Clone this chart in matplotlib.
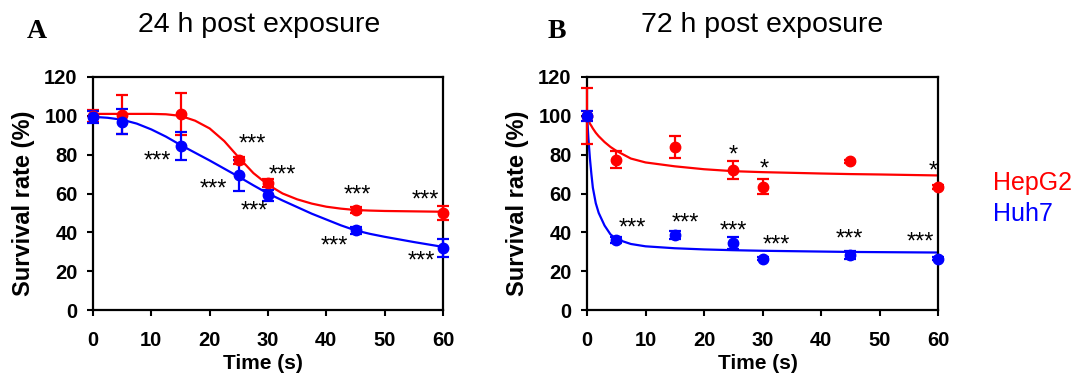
import matplotlib
matplotlib.use("Agg")
import matplotlib.pyplot as plt

plt.rcParams['font.family'] = ['Liberation Sans', 'DejaVu Sans']

# measured points (time in s, survival %)
times = [0, 5, 15, 25, 30, 45, 60]

hep_24 = [100, 100.5, 101, 77, 65.5, 51.5, 50]
hep_24_err = [3, 10, 11, 2, 2, 1.5, 3.5]
huh_24 = [99.5, 97, 84.5, 69.5, 59, 41, 32]
huh_24_err = [3, 6.5, 7, 8, 3, 2, 4.5]

hep_72 = [100, 77.5, 84, 72, 63.5, 76.5, 63.5]
hep_72_err = [14.5, 4.5, 5.5, 4.5, 4, 1, 1]
huh_72 = [100, 36, 38.5, 34.5, 26.5, 28.5, 26.5]
huh_72_err = [2.5, 1.5, 2, 3, 1, 2, 1]

# fitted curves
fit_t_24 = [0, 2.5, 5, 7.5, 10, 12.5, 15, 17.5, 20, 22.5, 25, 27.5, 30, 32.5,
            35, 37.5, 40, 42.5, 45, 47.5, 50, 55, 60]
hep_fit_24 = [101, 101, 101, 101, 101, 100.8, 100, 97.5, 93.5, 87, 78.5, 70.5,
              64.5, 60, 57, 54.8, 53.2, 52.2, 51.5, 51.2, 51, 50.8, 50.6]
huh_fit_24 = [99.5, 99, 98, 96, 93, 89.3, 85, 81, 77, 72.8, 68.6, 64.2, 60,
              56.4, 53, 49.6, 46.6, 43.6, 41, 39.2, 37.7, 35, 32.5]

fit_t_72 = [0, 0.25, 0.5, 0.75, 1, 1.5, 2, 3, 4, 5, 7.5, 10, 15, 20, 25, 30,
            40, 45, 50, 60]
hep_fit_72 = [100, 98, 96, 94.8, 93.5, 91.3, 89.5, 86.5, 84, 82, 78, 76, 74,
              72.5, 71.5, 71, 70.3, 70, 69.8, 69.3]
huh_fit_72 = [100, 88, 78, 70, 63, 55, 50, 43.5, 39, 36.5, 34, 32.8, 31.8,
              31.2, 30.8, 30.5, 30.1, 29.9, 29.8, 29.6]

# significance marks: (time, y, text)
stars_24 = [(11, 79, '***'), (27.3, 87.5, '***'), (32.4, 72, '***'),
            (20.7, 64.5, '***'), (27.6, 53, '***'), (45.4, 61.5, '***'),
            (41.4, 35, '***'), (56.9, 59, '***'), (56.3, 27.5, '***')]
stars_72 = [(25, 82, '*'), (30.3, 75, '*'), (59.2, 74, '*'),
            (7.8, 44.5, '***'), (16.8, 47, '***'), (25, 43, '***'),
            (32.3, 35.5, '***'), (44.8, 39, '***'), (57, 37, '***')]

RED = '#ff0000'
BLUE = '#0000ff'

fig = plt.figure(figsize=(10.78, 3.76), dpi=100)
axA = fig.add_axes([93 / 1078, 66 / 376, 350 / 1078, 233 / 376])
axB = fig.add_axes([587 / 1078, 66 / 376, 351 / 1078, 233 / 376])


def panel(ax, hep, hep_err, huh, huh_err, ft, hfit, ufit, stars):
    ax.plot(ft, hfit, color=RED, lw=1.6, zorder=2)
    ax.plot(ft, ufit, color=BLUE, lw=1.6, zorder=2)
    ax.errorbar(times, hep, yerr=hep_err, fmt='o', color=RED, ms=7.5,
                capsize=4, elinewidth=1.6, capthick=1.6, zorder=3,
                clip_on=False)
    ax.errorbar(times, huh, yerr=huh_err, fmt='o', color=BLUE, ms=7.5,
                capsize=4, elinewidth=1.6, capthick=1.6, zorder=3,
                clip_on=False)
    # asterisks sit high in the glyph box, nudge them down a little
    for x, y, s in stars:
        ax.annotate(s, (x, y), xytext=(0, -3.5), textcoords='offset points',
                    ha='center', va='center', fontsize=17, color='black')
    ax.set_xlim(0, 60)
    ax.set_ylim(0, 120)
    ax.set_xticks(range(0, 61, 10))
    ax.set_yticks(range(0, 121, 20))
    for sp in ax.spines.values():
        sp.set_linewidth(1.6)
    ax.tick_params(direction='out', length=4, width=1.5, labelsize=14.5)
    ax.tick_params(axis='x', pad=11)
    ax.tick_params(axis='y', pad=7)
    for lab in ax.get_xticklabels() + ax.get_yticklabels():
        lab.set_fontweight('bold')
    ax.set_xlabel('Time (s)', fontsize=15, fontweight='bold')
    ax.set_ylabel('Survival rate (%)', fontsize=17, fontweight='bold')
    ax.xaxis.set_label_coords(0.486, -0.19)
    ax.yaxis.set_label_coords(-0.166, 0.46)


panel(axA, hep_24, hep_24_err, huh_24, huh_24_err, fit_t_24, hep_fit_24,
      huh_fit_24, stars_24)
panel(axB, hep_72, hep_72_err, huh_72, huh_72_err, fit_t_72, hep_fit_72,
      huh_fit_72, stars_72)

fig.text(259 / 1078, 1 - 25 / 376, '24 h post exposure', ha='center',
         va='center', fontsize=20.5)
fig.text(762 / 1078, 1 - 25 / 376, '72 h post exposure', ha='center',
         va='center', fontsize=20.5)
fig.text(37 / 1078, 1 - 32 / 376, 'A', ha='center', va='center', fontsize=20,
         fontweight='bold', family=['Liberation Serif'])
fig.text(557 / 1078, 1 - 32 / 376, 'B', ha='center', va='center', fontsize=20,
         fontweight='bold', family=['Liberation Serif'])

fig.text(993 / 1078, 1 - 183 / 376, 'HepG2', ha='left', va='center',
         fontsize=18, color=RED)
fig.text(993 / 1078, 1 - 214 / 376, 'Huh7', ha='left', va='center',
         fontsize=18, color=BLUE)

fig.savefig('out.png', dpi=100)
